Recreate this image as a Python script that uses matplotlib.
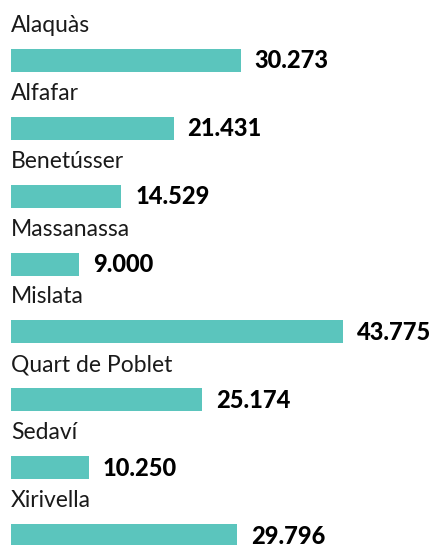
import matplotlib
matplotlib.use("Agg")
import matplotlib.pyplot as plt

towns = ["Alaquàs", "Alfafar", "Benetússer", "Massanassa", "Mislata",
         "Quart de Poblet", "Sedaví", "Xirivella"]
values = [30273, 21431, 14529, 9000, 43775, 25174, 10250, 29796]
value_labels = ["30.273", "21.431", "14.529", "9.000", "43.775",
                "25.174", "10.250", "29.796"]

W, H = 432, 545
fig = plt.figure(figsize=(W / 100, H / 100), dpi=100)
ax = fig.add_axes([0, 0, 1, 1])

# pixel geometry of the reference
px_per_unit = 332 / 43775
left_px = 11
pitch = 67.86
first_center = 60.5

ax.set_xlim(-left_px / px_per_unit, (W - left_px) / px_per_unit)
ax.set_ylim((H - first_center) / pitch, -first_center / pitch)

ypos = list(range(len(towns)))
ax.barh(ypos, values, height=23 / pitch, color="#5bc5bd", linewidth=0)

for i, (name, v, lab) in enumerate(zip(towns, values, value_labels)):
    ax.text(0, i - 28.5 / pitch, name, fontsize=16.5, family="Lato",
            fontweight="normal", color="#1a1a1a", va="baseline", ha="left")
    ax.text(v + 14 / px_per_unit, i + 8 / pitch, lab, fontsize=17,
            family="Lato", fontweight="black", color="#000000",
            va="baseline", ha="left")

ax.axis("off")
fig.savefig("out.png", dpi=100)
